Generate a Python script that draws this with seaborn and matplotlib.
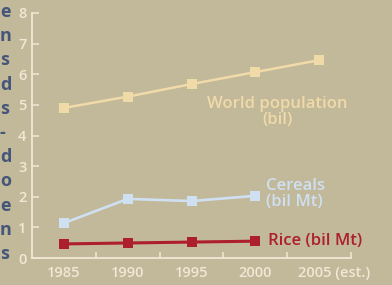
import matplotlib
matplotlib.use("Agg")
import matplotlib.pyplot as plt
import matplotlib.transforms as mtransforms
import seaborn as sns
import pandas as pd

years = ["1985", "1990", "1995", "2000", "2005 (est.)"]
population = [4.9, 5.27, 5.68, 6.07, 6.46]
cereals = [1.14, 1.93, 1.86, 2.03]
rice = [0.46, 0.49, 0.52, 0.55]
y_ticks = [0, 1, 2, 3, 4, 5, 6, 7, 8]
side_letters = ["e", "n", "s", "d", "s", "-", "d", "o", "e", "n", "s"]

BG = "#c2b89a"
CREAM = "#f1e8d6"
POP_C = "#f0dba8"
CER_C = "#cfe0f2"
RICE_C = "#ad1e2e"

rows = []
for i, v in enumerate(population):
    rows.append({"x": i, "value": v, "series": "pop"})
for i, v in enumerate(cereals):
    rows.append({"x": i, "value": v, "series": "cer"})
for i, v in enumerate(rice):
    rows.append({"x": i, "value": v, "series": "rice"})
df = pd.DataFrame(rows)

sns.set_style("ticks")
plt.rcParams["font.family"] = ["Open Sans", "DejaVu Sans"]

fig = plt.figure(figsize=(3.92, 2.85), dpi=100)
fig.patch.set_facecolor(BG)
ax = fig.add_axes([32/392, 27/285, 319/392, 245/285])
ax.set_facecolor(BG)

styles = {"pop": (POP_C, 1.8), "cer": (CER_C, 1.9), "rice": (RICE_C, 2.2)}
for s, (c, lw) in styles.items():
    sns.lineplot(data=df[df.series == s], x="x", y="value", ax=ax, color=c,
                 linewidth=lw, marker="s", markersize=7.2, markeredgewidth=0,
                 legend=False)

ax.set_xlim(-0.5, 4.5)
ax.set_ylim(0, 8)
ax.set_xticks(range(len(years)))
ax.set_xticklabels(years)
ax.set_xticks([0.5, 1.5, 2.5, 3.5, 4.5], minor=True)
ax.set_yticks(y_ticks)
ax.set_xlabel("")
ax.set_ylabel("")
for sp in ["top", "right"]:
    ax.spines[sp].set_visible(False)
for sp in ["left", "bottom"]:
    ax.spines[sp].set_color(CREAM)
    ax.spines[sp].set_linewidth(1.3)
ax.tick_params(axis="x", which="major", length=0, pad=6, labelsize=10.5, labelcolor=CREAM)
ax.tick_params(axis="x", which="minor", direction="in", length=4, width=1.1, color=CREAM)
ax.tick_params(axis="y", direction="in", length=5, width=1.1, color=CREAM,
               labelsize=10.5, labelcolor=CREAM, pad=4)
for lab in ax.get_xticklabels() + ax.get_yticklabels():
    lab.set_fontweight("semibold")
last = ax.get_xticklabels()[-1]
last.set_transform(last.get_transform() +
                   mtransforms.ScaledTranslation(0.15, 0, fig.dpi_scale_trans))

ax.text(3.35, 4.77, "World population\n(bil)", color=POP_C, fontsize=12,
        fontweight="semibold", ha="center", va="center", linespacing=0.95)
ax.text(3.17, 2.09, "Cereals\n(bil Mt)", color=CER_C, fontsize=12,
        fontweight="semibold", ha="left", va="center", linespacing=0.95)
ax.text(3.2, 0.56, "Rice (bil Mt)", color=RICE_C, fontsize=12,
        fontweight="semibold", ha="left", va="center")

for i, ch in enumerate(side_letters):
    fig.text(0.0, 1 - (12 + 24.2 * i) / 285, ch, color="#45567a", fontsize=13,
             fontweight="bold", ha="left", va="center")

fig.savefig("out.png", dpi=100, facecolor=BG)
